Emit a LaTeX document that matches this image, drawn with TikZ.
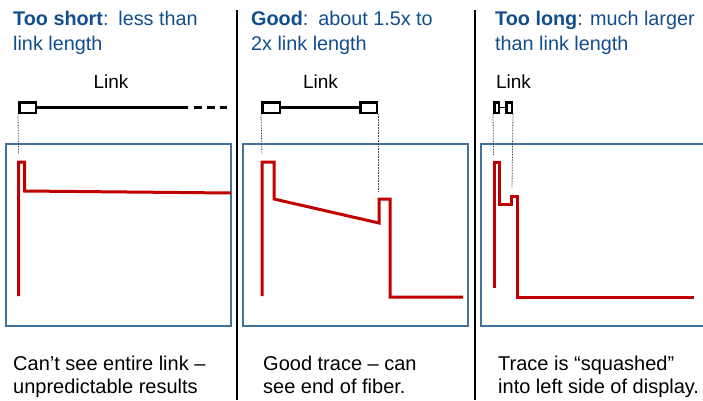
\documentclass[tikz,border=0pt]{standalone}
\usepackage{fontspec}
\setmainfont{Liberation Sans}
\definecolor{ttl}{RGB}{18,78,140}
\definecolor{scr}{RGB}{65,113,156}
\definecolor{trc}{RGB}{192,0,0}
\begin{document}
\begin{tikzpicture}[x=1pt,y=-1pt,
  title/.style={anchor=base west,align=left,inner sep=0pt,text=ttl,font=\fontsize{19.8}{25}\selectfont},
  caption/.style={anchor=base west,align=left,inner sep=0pt,font=\fontsize{20}{23}\selectfont},
  linklabel/.style={anchor=base,inner sep=0pt,font=\fontsize{19}{23}\selectfont},
  linkbox/.style={draw=black,line width=2.5pt,fill=white,inner sep=0pt,minimum height=10.5pt},
  linkline/.style={line width=2.5pt},
  dots/.style={line width=0.8pt,dash pattern=on 0.8pt off 0.8pt,black!75},
  screen/.style={draw=scr,line width=1.3pt},
  trace/.style={trc,line width=3pt,line join=miter},
  sep/.style={line width=1.3pt,black}]
\useasboundingbox (0,0) rectangle (703,400);
% separators
\draw[sep] (237,10) coordinate (s1t) -- (237,400) coordinate (s1b);
\draw[sep] (475,10) coordinate (s2t) -- (475,400) coordinate (s2b);
% titles (anchored at the baseline of the last line)
\node[title] (t1) at (13,50) {\textbf{Too short}:\hspace{0.5em}less than\\link length};
\node[title] (t2) at (251,50) {\textbf{Good}:\hspace{0.5em}about 1.5x to\\2x link length};
\node[title] (t3) at (495,50) {\textbf{Too long}: much larger\\than link length};
% link labels
\node[linklabel] (l1) at (111,88) {Link};
\node[linklabel] (l2) at (320.5,88) {Link};
\node[linklabel] (l3) at (513.5,88) {Link};
% panel 1 link
\node[linkbox,minimum width=16.5pt] (b1) at (27.5,107.5) {};
\coordinate (e1) at (188,107.5);
\coordinate (d1a) at (194,107.5);
\coordinate (d1b) at (227,107.5);
\draw[linkline] (b1.east) -- (e1);
\draw[linkline,dash pattern=on 8pt off 5pt] (d1a) -- (d1b);
% panel 2 link
\node[linkbox,minimum width=17.5pt] (b2a) at (271,107.5) {};
\node[linkbox,minimum width=16.5pt] (b2b) at (368.5,107.5) {};
\draw[linkline] (b2a.east) -- (b2b.west);
% panel 3 link
\node[linkbox,minimum width=4.5pt] (b3a) at (496.5,107.5) {};
\node[linkbox,minimum width=5.5pt] (b3b) at (509,107.5) {};
\draw[line width=1.5pt] (b3a.east) -- (b3b.west);
% screens
\draw[screen] (6,144) rectangle (231,326);
\draw[screen] (243,144) rectangle (468,326);
\draw[screen] (703,144) -- (481,144) -- (481,326) -- (703,326);
% dotted guides
\coordinate (g1) at (18.5,154);
\coordinate (g2a) at (262,154);
\coordinate (g2b) at (378,192);
\coordinate (g3a) at (493.5,155);
\coordinate (g3b) at (512,187);
\draw[dots] (b1.south west) -- (g1);
\draw[dots] (b2a.south west) -- (g2a);
\draw[dots] (b2b.south east) -- (g2b);
\draw[dots] (b3a.south west) -- (g3a);
\draw[dots] (b3b.south east) -- (g3b);
% traces
\draw[trace] (18.5,296) -- (18.5,162) -- (24.5,162) -- (24.5,191) -- (231,193);
\draw[trace] (262,296) -- (262,162) -- (274,162) -- (274,199) -- (379,223) -- (379,199) -- (390,199) -- (390,297) -- (463,297);
\draw[trace] (494,288) -- (494,162) -- (499.5,162) -- (499.5,204) -- (511,204) -- (511,196) -- (517,196) -- (517,297) -- (694,297);
% captions (anchored at the baseline of the last line)
\node[caption] (c1) at (13,393) {Can’t see entire link –\\unpredictable results};
\node[caption] (c2) at (263,393) {Good trace – can\\see end of fiber.};
\node[caption] (c3) at (498,393) {Trace is “squashed”\\into left side of display.};
\end{tikzpicture}
\end{document}
